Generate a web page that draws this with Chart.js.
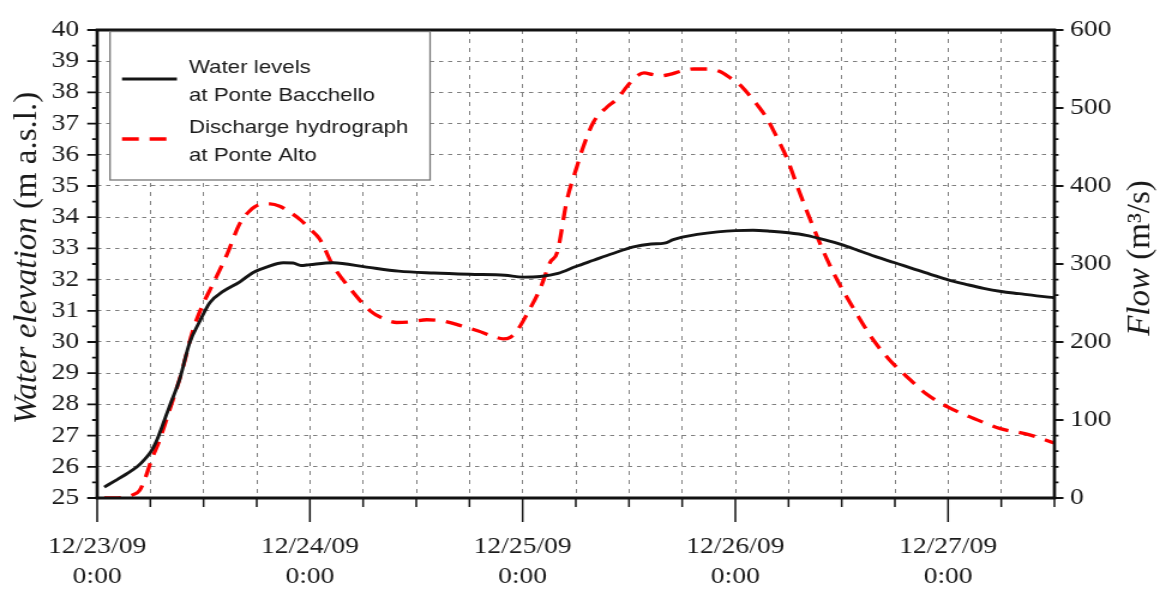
<!DOCTYPE html>
<html>
<head>
<meta charset="utf-8">
<script src="https://cdn.jsdelivr.net/npm/chart.js@4.4.1/dist/chart.umd.min.js"></script>
<style>
  html, body { margin: 0; padding: 0; background: #fff; overflow: hidden; }
  #wrap { width: 972px; height: 597px; transform: scaleX(1.19959); transform-origin: 0 0; }
  #hydro { display: block; }
</style>
</head>
<body>
<div id="wrap"><canvas id="hydro" width="972" height="597"></canvas></div>
<script>
// the figure's text is horizontally wide, so the canvas is drawn narrower and stretched
var STRETCH = 1166 / 972;

// hours since 12/23/09 0:00
var dayLabels = ['12/23/09', '12/24/09', '12/25/09', '12/26/09', '12/27/09'];

// water levels at Ponte Bacchello (m a.s.l.)
var levelHours = [0.8, 2, 3.3, 4.5, 5.2, 6.1, 6.8, 7.4, 8.2, 9.3, 10.4, 11.6, 12.7, 14.2, 16.1, 17.6, 19.1, 21, 22.1, 23, 24,
  26.6, 30.4, 34, 38, 42, 46, 48, 50, 52, 54, 56, 58, 60.5, 62.5, 64, 65, 66, 67.7, 70, 72, 74, 76, 78, 80, 82, 84, 86, 88,
  90, 92, 94, 96, 98, 100, 102, 104, 106, 108];
var levelValues = [25.35, 25.55, 25.77, 26.0, 26.19, 26.5, 26.9, 27.35, 27.97, 28.8, 29.95, 30.68, 31.26, 31.62, 31.93, 32.23,
  32.4, 32.54, 32.53, 32.45, 32.48, 32.54, 32.4, 32.27, 32.21, 32.17, 32.14, 32.08, 32.1, 32.2, 32.42, 32.62, 32.82, 33.05,
  33.14, 33.17, 33.28, 33.36, 33.45, 33.53, 33.57, 33.58, 33.55, 33.5, 33.42, 33.28, 33.12, 32.92, 32.72, 32.54, 32.35,
  32.17, 31.99, 31.85, 31.72, 31.62, 31.55, 31.48, 31.42];

// discharge hydrograph at Ponte Alto (m3/s)
var flowHours = [0.8, 2, 3, 4, 4.8, 5.5, 6.1, 7, 8.2, 9.5, 10.8, 12, 13, 14.6, 16.1, 17.2, 18.3, 19.5, 20.6, 21.8, 22.9, 24,
  25.1, 26.6, 28.5, 30.8, 32.5, 33.8, 35.5, 37.2, 39, 41, 43, 44.5, 45.8, 46.6, 47.4, 48.5, 50, 51.1, 51.9, 53, 54.1, 54.8,
  56, 57.5, 58.7, 59.8, 60.8, 61.7, 62.6, 63.5, 64.6, 65.8, 67.3, 68.8, 70.2, 71.5, 72.5, 73.3, 74.4, 75.6, 76.7, 77.8,
  79.3, 81.2, 82.3, 83.8, 85.7, 87.6, 89.4, 91.3, 93.6, 96, 98.9, 101.9, 105.2, 108];
var flowValues = [0, 0, 1, 4, 10, 28, 48, 73, 114, 160, 215, 250, 273, 311, 352, 368, 376, 377, 374, 366, 357, 345, 332, 298,
  269, 240, 229, 225, 226, 228.5, 227, 221, 214, 208, 204, 206, 215, 236, 269, 302, 315, 382, 424, 449, 482, 501, 512, 528,
  540, 545, 543, 541, 543, 547, 550, 550, 547, 538, 530, 520, 505, 486, 462, 436, 390, 336, 307, 273, 236, 202, 177, 156,
  133, 116.5, 102, 89, 81, 70.5];

var levelPoints = levelHours.map(function(h, i) { return { x: h, y: levelValues[i] }; });
var flowPoints = flowHours.map(function(h, i) { return { x: h, y: flowValues[i] }; });

// draws a rotated axis title with an italic first part, undoing the stretch
function drawTitle(ctx, cx, cy, parts) {
  ctx.save();
  ctx.scale(1 / STRETCH, 1);
  ctx.translate(cx, cy);
  ctx.rotate(-Math.PI / 2);
  var total = 0;
  parts.forEach(function(p) { ctx.font = p.font; p.w = ctx.measureText(p.text).width; total += p.w; });
  var pos = -total / 2;
  ctx.fillStyle = '#1a1a1a';
  ctx.textAlign = 'left';
  ctx.textBaseline = 'middle';
  parts.forEach(function(p) { ctx.font = p.font; ctx.fillText(p.text, pos, 0); pos += p.w; });
  ctx.restore();
}

var framePlugin = {
  id: 'frame',
  afterDraw: function(chart) {
    var ctx = chart.ctx, a = chart.chartArea;
    var sx = chart.scales.x, sy = chart.scales.y, sy2 = chart.scales.y2;
    ctx.save();
    ctx.strokeStyle = '#111';

    // tick marks on the bottom axis
    ctx.lineWidth = 1.5;
    ctx.beginPath();
    for (var h = 0; h <= 108; h += 6) {
      var px = sx.getPixelForValue(h);
      ctx.moveTo(px, a.bottom);
      ctx.lineTo(px, a.bottom + (h % 24 === 0 ? 24 : 9));
    }
    ctx.stroke();

    // tick marks on both vertical axes
    ctx.lineWidth = 1.8;
    ctx.beginPath();
    for (var v = 25; v <= 40; v += 0.5) {
      var py = sy.getPixelForValue(v);
      ctx.moveTo(a.left, py);
      ctx.lineTo(a.left - (v % 1 === 0 ? 8.3 : 4.2), py);
    }
    for (var f = 0; f <= 600; f += 20) {
      var py2 = sy2.getPixelForValue(f);
      ctx.moveTo(a.right, py2);
      ctx.lineTo(a.right + (f % 100 === 0 ? 7.5 : 3.4), py2);
    }
    ctx.stroke();

    // frame
    ctx.lineWidth = 3.2;
    ctx.beginPath();
    ctx.moveTo(a.left - 1.3, a.top); ctx.lineTo(a.right + 1.3, a.top);
    ctx.moveTo(a.left - 1.3, a.bottom); ctx.lineTo(a.right + 1.3, a.bottom);
    ctx.stroke();
    ctx.lineWidth = 2.7;
    ctx.beginPath();
    ctx.moveTo(a.left, a.top); ctx.lineTo(a.left, a.bottom);
    ctx.moveTo(a.right, a.top); ctx.lineTo(a.right, a.bottom);
    ctx.stroke();

    // legend
    var d0 = chart.data.datasets[0], d1 = chart.data.datasets[1];
    ctx.fillStyle = '#fff';
    ctx.fillRect(91.7, 31.5, 266.8, 148.5);
    ctx.strokeStyle = '#777';
    ctx.lineWidth = 1.3;
    ctx.strokeRect(91.7, 31.5, 266.8, 148.5);

    ctx.strokeStyle = d0.borderColor;
    ctx.lineWidth = d0.borderWidth;
    ctx.beginPath(); ctx.moveTo(101.7, 79); ctx.lineTo(147.5, 79); ctx.stroke();
    ctx.strokeStyle = d1.borderColor;
    ctx.lineWidth = d1.borderWidth;
    ctx.setLineDash(d1.borderDash);
    ctx.beginPath(); ctx.moveTo(101.7, 139); ctx.lineTo(147.5, 139); ctx.stroke();
    ctx.setLineDash([]);

    ctx.fillStyle = '#1a1a1a';
    ctx.font = '18.6px "Liberation Sans", Arial, sans-serif';
    ctx.textAlign = 'left';
    ctx.textBaseline = 'alphabetic';
    ctx.fillText('Water levels', 157.5, 72.7);
    ctx.fillText('at Ponte Bacchello', 157.5, 100.5);
    ctx.fillText('Discharge hydrograph', 157.5, 132.7);
    ctx.fillText('at Ponte Alto', 157.5, 160.7);
    ctx.restore();

    // axis titles
    drawTitle(ctx, 27, 258, [
      { text: 'Water elevation', font: 'italic 33px "Liberation Serif", "Times New Roman", serif' },
      { text: ' (m a.s.l.)', font: '33px "Liberation Serif", "Times New Roman", serif' }
    ]);
    drawTitle(ctx, 1141, 258, [
      { text: 'Flow', font: 'italic 33px "Liberation Serif", "Times New Roman", serif' },
      { text: ' (m\u00B3/s)', font: '33px "Liberation Serif", "Times New Roman", serif' }
    ]);
  }
};

var tickFont = { family: '"Liberation Serif", "Times New Roman", serif', size: 23, lineHeight: 1.304 };

var ctx = document.getElementById('hydro').getContext('2d');
var hydroChart = new Chart(ctx, {
  type: 'line',
  data: {
    datasets: [{
      label: 'Water levels at Ponte Bacchello',
      data: levelPoints,
      yAxisID: 'y',
      borderColor: '#151515',
      borderWidth: 2.9,
      pointRadius: 0,
      cubicInterpolationMode: 'monotone'
    }, {
      label: 'Discharge hydrograph at Ponte Alto',
      data: flowPoints,
      yAxisID: 'y2',
      borderColor: '#ff0000',
      borderWidth: 3.3,
      borderDash: [14, 9],
      pointRadius: 0,
      cubicInterpolationMode: 'monotone'
    }]
  },
  options: {
    responsive: false,
    animation: false,
    events: [],
    layout: { padding: { top: 19, left: 0, right: 0, bottom: 0 } },
    plugins: { legend: { display: false }, tooltip: { enabled: false } },
    scales: {
      x: {
        type: 'linear',
        min: 0,
        max: 108,
        afterFit: function(scale) { scale.height = 99; },
        border: { display: false, dash: [4, 5] },
        grid: {
          drawTicks: false,
          lineWidth: 1,
          color: function(c) {
            var t = c.tick && c.tick.value;
            return (t === 0 || t === 108) ? 'rgba(0,0,0,0)' : '#808080';
          }
        },
        ticks: {
          stepSize: 6,
          autoSkip: false,
          maxRotation: 0,
          padding: 34,
          color: '#1a1a1a',
          font: tickFont,
          callback: function(value) {
            if (value % 24 !== 0) return '';
            return [dayLabels[value / 24], '0:00'];
          }
        }
      },
      y: {
        position: 'left',
        min: 25,
        max: 40,
        afterFit: function(scale) { scale.width = 81; },
        border: { display: false, dash: [3.5, 4] },
        grid: {
          drawTicks: false,
          lineWidth: 1,
          color: function(c) {
            var t = c.tick && c.tick.value;
            return (t === 25 || t === 40) ? 'rgba(0,0,0,0)' : '#808080';
          }
        },
        ticks: { stepSize: 1, autoSkip: false, padding: 15, color: '#1a1a1a', font: tickFont }
      },
      y2: {
        position: 'right',
        min: 0,
        max: 600,
        afterFit: function(scale) { scale.width = 93; },
        border: { display: false },
        grid: { display: false, drawTicks: false },
        ticks: { stepSize: 100, autoSkip: false, padding: 13, color: '#1a1a1a', font: tickFont }
      }
    }
  },
  plugins: [framePlugin]
});
</script>
</body>
</html>
